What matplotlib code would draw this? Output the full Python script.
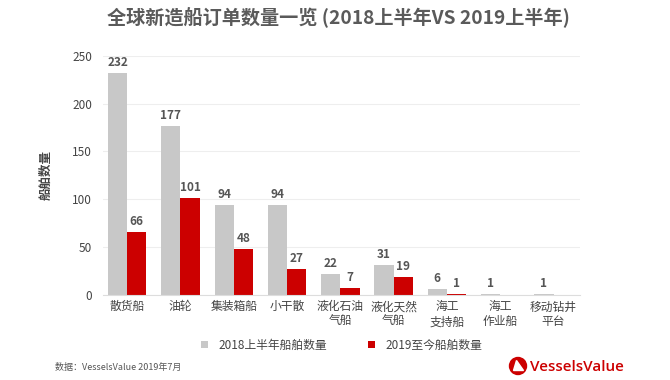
import matplotlib.pyplot as plt
import numpy as np
from matplotlib.patches import Ellipse, Polygon

plt.rcParams['font.family'] = ['Noto Sans CJK SC', 'DejaVu Sans']

# 数据
categories = ['散货船', '油轮', '集装箱船', '小干散', '液化石油\n气船', '液化天然\n气船',
              '海工\n支持船', '海工\n作业船', '移动钻井\n平台']
h1_2018 = [232, 177, 94, 94, 22, 31, 6, 1, 1]
ytd_2019 = [66, 101, 48, 27, 7, 19, 1, 0, 0]
legend_labels = ['2018上半年船舶数量', '2019至今船舶数量']

grey = '#c8c8c8'
red = '#cc0000'
txt = '#555555'

W, H = 6.7, 3.8
fig = plt.figure(figsize=(W, H), dpi=100, facecolor='white')
ax = fig.add_axes([0.154, 0.224, 0.712, 0.629])

x = np.arange(len(categories))
w = 0.36
b1 = ax.bar(x - w / 2, h1_2018, w, color=grey, label=legend_labels[0])
b2 = ax.bar(x + w / 2, ytd_2019, w, color=red, label=legend_labels[1])

# 数值标签
for xi, v in zip(x - w / 2, h1_2018):
    ax.text(xi, v + 4, str(v), ha='center', va='bottom', fontsize=8.5,
            fontweight='bold', color=txt)
for xi, v in zip(x + w / 2, ytd_2019):
    if v > 0:
        ax.text(xi, v + 4, str(v), ha='center', va='bottom', fontsize=8.5,
                fontweight='bold', color=txt)

ax.set_ylim(0, 250)
ax.set_xlim(-0.45, 8.5)
ax.set_yticks(range(0, 251, 50))
ax.set_xticks(x, categories)
ax.tick_params(axis='both', length=0, labelsize=8.5, colors='#444444')
ax.tick_params(axis='y', pad=8)
ax.tick_params(axis='x', pad=4)
ax.grid(axis='y', color='#eeeeee', linewidth=0.8)
ax.set_axisbelow(True)
for s in ['top', 'right', 'left']:
    ax.spines[s].set_visible(False)
ax.spines['bottom'].set_color('#dddddd')

ax.set_ylabel('船舶数量', fontsize=9, fontweight='bold', color='#444444', labelpad=14)

fig.text(0.505, 0.955, '全球新造船订单数量一览 (2018上半年VS 2019上半年)', ha='center',
         va='center', fontsize=13.8, fontweight='bold', color='#5a5a5a')

fig.legend(handles=[b1, b2], labels=legend_labels, loc='center',
           bbox_to_anchor=(0.51, 0.092), ncol=2, frameon=False, fontsize=8.5,
           handlelength=0.6, handleheight=0.6, columnspacing=3.4, handletextpad=0.9,
           labelcolor='#444444')

fig.text(0.082, 0.032, '数据：VesselsValue 2019年7月', fontsize=6.5, color='#555555',
         va='center')

# logo
fig.text(530 / 670, 0.034, 'VesselsValue', fontsize=11, color=red, ha='left',
         va='center', family='Open Sans', fontweight='semibold')
lx, ly = 518 / 670, 1 - 366 / 380
rp = 8.5  # 像素半径
fig.patches.append(Ellipse((lx, ly), 2 * rp / 670, 2 * rp / 380,
                           transform=fig.transFigure, color=red))
tri = [(-4.5, -4.5), (5.5, -4.5), (-1.5, 5.5)]
fig.patches.append(Polygon([(lx + px / 670, ly + py / 380) for px, py in tri],
                           closed=True, transform=fig.transFigure, color='white'))

fig.savefig('out.png', dpi=100)
